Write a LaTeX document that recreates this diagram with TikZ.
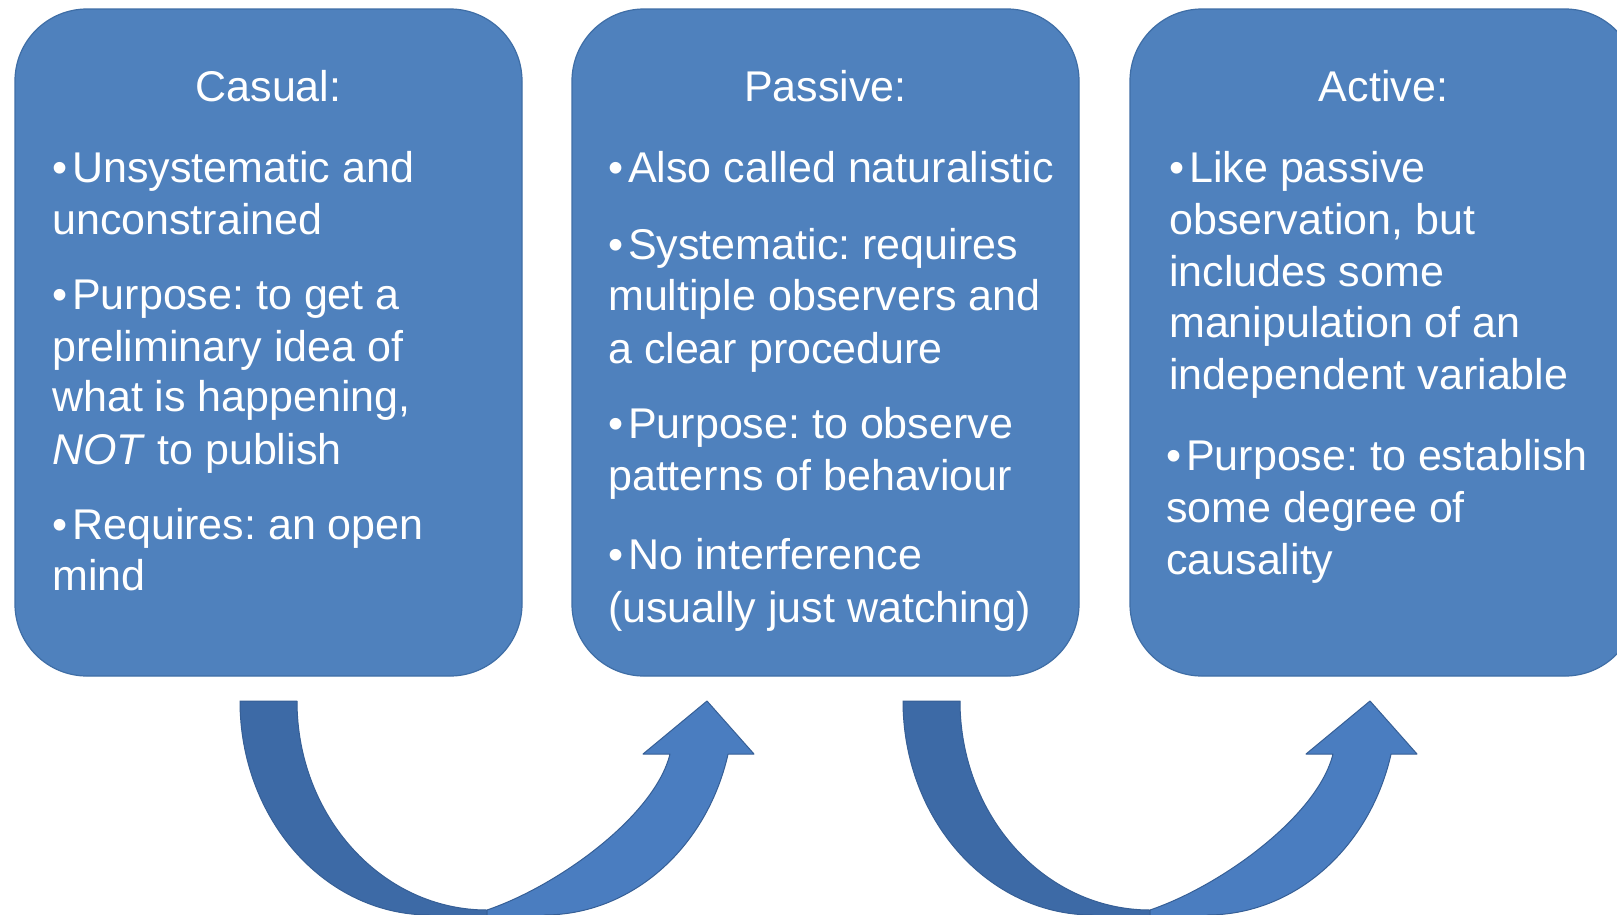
\documentclass[tikz,border=0pt]{standalone}
\usepackage{fontspec}
\setmainfont{Liberation Sans}
\definecolor{boxblue}{HTML}{4F81BD}
\definecolor{boxedge}{HTML}{3F6EA6}
\definecolor{arrowfront}{HTML}{4A7DC0}
\definecolor{arrowback}{HTML}{3D6AA6}
\definecolor{arrowedge}{HTML}{365F96}
\newcommand{\mybul}{\textbullet\hspace{5pt}}
\frenchspacing
\begin{document}
\frenchspacing
\begin{tikzpicture}[x=1pt,y=-1pt,
  box/.style={draw=boxedge, line width=1.2pt, fill=boxblue, rounded corners=72pt,
    minimum width=507pt, minimum height=667pt, inner sep=0pt},
  txt/.style={anchor=base west, inner sep=0pt, text=white, font=\fontsize{43}{51}\selectfont},
  ttl/.style={anchor=base, inner sep=0pt, text=white, font=\fontsize{43}{51}\selectfont},
  backband/.style={fill=arrowback, draw=arrowedge, line width=1pt, line join=round},
  frontband/.style={fill=arrowfront, draw=arrowedge, line width=1pt, line join=round}]
\useasboundingbox (0,0) rectangle (1617,914);
\clip (0,0) rectangle (1617,914);
\fill[white] (0,0) rectangle (1617,914);

% boxes
\node[box] (casual)  at (268.5,342.5) {};
\node[box] (passive) at (825.5,342.5) {};
\node[box] (active)  at (1383.5,342.5) {};

% box 1 text
\node[ttl] (t1) at (268.5,101) {Casual:};
\node[txt] (a1) at (52,182.5) {\mybul Unsystematic and};
\node[txt] (a2) at (52,234) {unconstrained};
\node[txt] (a3) at (52,309) {\mybul Purpose: to get a};
\node[txt] (a4) at (52,361) {preliminary idea of};
\node[txt] (a5) at (52,411) {what is happening,};
\node[txt] (a6) at (52,464) {\textit{NOT} to publish};
\node[txt] (a7) at (52,539) {\mybul Requires: an open};
\node[txt] (a8) at (52,590) {mind};

% box 2 text
\node[ttl] (t2) at (825.5,101) {Passive:};
\node[txt] (b1) at (608,182.5) {\mybul Also called naturalistic};
\node[txt] (b2) at (608,259) {\mybul Systematic: requires};
\node[txt] (b3) at (608,310) {multiple observers and};
\node[txt] (b4) at (608,363) {a clear procedure};
\node[txt] (b5) at (608,438) {\mybul Purpose: to observe};
\node[txt] (b6) at (608,490) {patterns of behaviour};
\node[txt] (b7) at (608,569) {\mybul No interference};
\node[txt] (b8) at (608,622) {(usually just watching)};

% box 3 text
\node[ttl] (t3) at (1383.5,101) {Active:};
\node[txt] (c1) at (1169,182.5) {\mybul Like passive};
\node[txt] (c2) at (1169,234) {observation, but};
\node[txt] (c3) at (1169,286) {includes some};
\node[txt] (c4) at (1169,337) {manipulation of an};
\node[txt] (c5) at (1169,389) {independent variable};
\node[txt] (c6) at (1166,470) {\mybul Purpose: to establish};
\node[txt] (c7) at (1166,522) {some degree of};
\node[txt] (c8) at (1166,574) {causality};

% curved up arrows
\foreach \dx in {0,663}{
  \begin{scope}[shift={(\dx,0)}]
    \filldraw[backband] (240,701)
      arc[start angle=180, end angle=270, x radius=190pt, y radius=214pt]
      -- (430,930) -- (487,930) -- (487,910)
      arc[start angle=270, end angle=180, x radius=190pt, y radius=209pt]
      -- cycle;
    \filldraw[frontband] (487,910) -- (487,930) -- (544,930) -- (544,915)
      arc[start angle=270, end angle=345.66, x radius=190pt, y radius=214pt]
      -- (754,754) -- (707,701) -- (643,754) -- (670,754)
      .. controls (655,815) and (560,885) .. (487,910) -- cycle;
  \end{scope}
}
\end{tikzpicture}
\end{document}
